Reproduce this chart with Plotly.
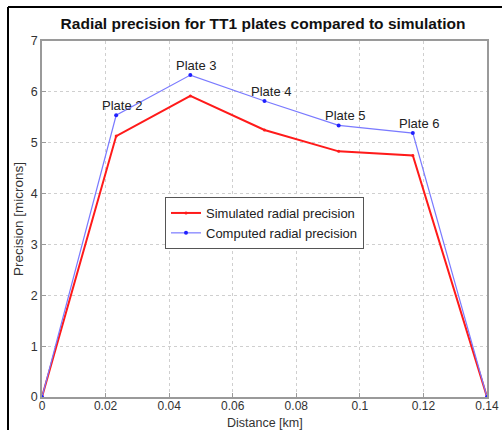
import plotly.graph_objects as go

distance_km = [0, 0.02333, 0.04667, 0.07, 0.09333, 0.11667, 0.14]
simulated = [0, 5.13, 5.92, 5.25, 4.83, 4.75, 0]
computed = [0, 5.54, 6.33, 5.82, 5.34, 5.19, 0]
plate_labels = ["", "Plate 2", "Plate 3", "Plate 4", "Plate 5", "Plate 6", ""]
x_ticks = [0, 0.02, 0.04, 0.06, 0.08, 0.1, 0.12, 0.14]
x_tick_text = ["0", "0.02", "0.04", "0.06", "0.08", "0.1", "0.12", "0.14"]
y_ticks = [0, 1, 2, 3, 4, 5, 6, 7]

W, H = 502, 430
L, R, T, B = 42, 15, 41, 33
FONT = "Liberation Sans, Arial"

fig = go.Figure()
fig.add_trace(go.Scatter(
    x=distance_km, y=simulated, mode="lines+markers",
    name="Simulated radial precision",
    line=dict(color="#ff1a1a", width=2),
    marker=dict(color="#ff1a1a", size=3),
))
fig.add_trace(go.Scatter(
    x=distance_km, y=computed, mode="lines+markers",
    name="Computed radial precision",
    line=dict(color="#7a7aff", width=1.2),
    marker=dict(color="#2020ff", size=4),
))

for xv, yv, lab in zip(distance_km, computed, plate_labels):
    if lab:
        fig.add_annotation(x=xv, y=yv, text=lab, showarrow=False,
                           xshift=6, yshift=10,
                           font=dict(family=FONT, size=13, color="#222"))

pw = W - L - R
ph = H - T - B
def px(xp):
    return (xp - L) / pw
def py(yp):
    return (H - B - yp) / ph

# x-axis title as a paper annotation (tight under the tick labels, as in the reference)
fig.add_annotation(xref="paper", yref="paper", x=0.5, y=py(432), yanchor="bottom",
                   text="Distance [km]", showarrow=False,
                   font=dict(family=FONT, size=12.5, color="#333"))

# outer black frame (left and top edges)
fig.add_shape(type="line", xref="paper", yref="paper",
              x0=px(8), x1=px(8), y0=py(7), y1=py(432),
              line=dict(color="black", width=2))
fig.add_shape(type="line", xref="paper", yref="paper",
              x0=px(8), x1=px(504), y0=py(7), y1=py(7),
              line=dict(color="black", width=2))

axis_common = dict(
    showline=True, linecolor="#9a9a9a", linewidth=1.5, mirror=True,
    showgrid=True, gridcolor="#cfcfcf", griddash="dot", gridwidth=1,
    zeroline=False, ticks="inside", ticklen=4, tickcolor="#9a9a9a",
    automargin=False,
    tickfont=dict(family=FONT, size=12.5, color="#333"),
)

fig.update_layout(
    width=W, height=H,
    margin=dict(l=L, r=R, t=T, b=B, autoexpand=False),
    paper_bgcolor="white", plot_bgcolor="white",
    title=dict(text="<b>Radial precision for TT1 plates compared to simulation</b>",
               x=263 / W, xanchor="center",
               y=1 - 24 / H, yanchor="middle",
               font=dict(family=FONT, size=15.5, color="#111")),
    xaxis=dict(range=[0, 0.14], tickvals=x_ticks, ticktext=x_tick_text,
               ticklabelstandoff=-3,
               **{**axis_common, "tickfont": dict(family=FONT, size=12, color="#333")}),
    yaxis=dict(range=[0, 7], tickvals=y_ticks,
               title=dict(text="Precision [microns]", standoff=4,
                          font=dict(family=FONT, size=13.5, color="#333")),
               **axis_common),
    legend=dict(x=px(165), y=py(197), xanchor="left", yanchor="top",
                bgcolor="white", bordercolor="#555", borderwidth=1,
                font=dict(family=FONT, size=13, color="#222"),
                tracegroupgap=0, itemwidth=30),
    showlegend=True,
)

fig.write_html("out.html", config={"displayModeBar": False},
               post_script="document.body.style.margin='0';document.body.style.overflow='hidden';")
